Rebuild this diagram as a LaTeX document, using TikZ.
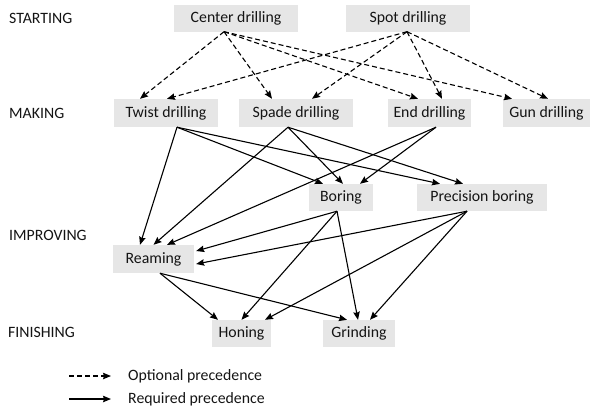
\documentclass[tikz,border=0pt]{standalone}
\usepackage{fontspec}
\setmainfont{Carlito}
\usetikzlibrary{arrows.meta}
\definecolor{boxgray}{RGB}{230,230,230}
\definecolor{ink}{RGB}{20,20,20}
\begin{document}
\begin{tikzpicture}[x=1pt,y=-1pt,
  font=\fontsize{15.8}{18}\selectfont,
  every node/.style={text=ink},
  proc/.style={fill=boxgray,inner sep=0pt,minimum height=27pt},
  stage/.style={anchor=west,inner sep=0pt},
  tip/.style={-{Stealth[length=8pt,width=6.5pt,inset=1pt]}},
  opt/.style={tip,line width=1.1pt,dash pattern=on 5pt off 3pt},
  req/.style={tip,line width=1.1pt}]
\useasboundingbox (0,0) rectangle (593,410);

% stage labels
\node[stage] (lstart) at (9,18) {STARTING};
\node[stage] (lmake)  at (9,113) {MAKING};
\node[stage] (limpr)  at (9,235) {IMPROVING};
\node[stage] (lfin)   at (8,332) {FINISHING};

% process boxes
\node[proc,minimum width=124pt] (center) at (236,18) {Center drilling};
\node[proc,minimum width=124pt] (spot)   at (408,18) {Spot drilling};
\node[proc,minimum width=104pt,minimum height=28pt] (twist) at (166,113) {Twist drilling};
\node[proc,minimum width=114pt,minimum height=28pt] (spade) at (296,113) {Spade drilling};
\node[proc,minimum width=83pt,minimum height=28pt]  (endd)  at (429.5,113) {End drilling};
\node[proc,minimum width=87pt,minimum height=28pt]  (gun)   at (546.5,113) {Gun drilling};
\node[proc,minimum width=64pt]  (boring) at (341,197.5) {Boring};
\node[proc,minimum width=130pt] (prec)   at (482,197.5) {Precision boring};
\node[proc,minimum width=81pt,minimum height=28pt] (ream) at (153.5,259) {Reaming};
\node[proc,minimum width=59pt]  (hon)  at (241.5,333.5) {Honing};
\node[proc,minimum width=72pt]  (grind) at (359,333.5) {Grinding};

% optional precedences
\draw[opt] ([xshift=-12pt]center.south) -- ([xshift=-26pt]twist.north);
\draw[opt] ([xshift=-12pt]center.south) -- ([xshift=-24pt]spade.north);
\draw[opt] ([xshift=-12pt]center.south) -- ([xshift=-11.5pt]endd.north);
\draw[opt] ([xshift=-12pt]center.south) -- ([xshift=-34.5pt]gun.north);
\draw[opt] ([xshift=-1pt]spot.south) -- ([xshift=1pt]twist.north);
\draw[opt] ([xshift=-1pt]spot.south) -- ([xshift=16pt]spade.north);
\draw[opt] ([xshift=-1pt]spot.south) -- ([xshift=12.5pt]endd.north);
\draw[opt] ([xshift=-1pt]spot.south) -- ([xshift=1.5pt]gun.north);

% required precedences
\draw[req] ([xshift=11pt]twist.south) -- ([xshift=-13.5pt]ream.north);
\draw[req] ([xshift=11pt]twist.south) -- ([xshift=-18pt]boring.north);
\draw[req] ([xshift=11pt]twist.south) -- ([xshift=-42pt]prec.north);
\draw[req] ([xshift=-8pt]spade.south) -- (ream.north);
\draw[req] ([xshift=-8pt]spade.south) -- ([xshift=2pt]boring.north);
\draw[req] ([xshift=-8pt]spade.south) -- ([xshift=-19pt]prec.north);
\draw[req] ([xshift=6.5pt]endd.south) -- ([xshift=13.5pt]ream.north);
\draw[req] ([xshift=6.5pt]endd.south) -- ([xshift=19pt]boring.north);
\draw[req] ([xshift=-4pt]boring.south) -- ([xshift=2pt,yshift=8pt]ream.east);
\draw[req] ([xshift=-4pt]boring.south) -- (hon.north);
\draw[req] ([xshift=-4pt]boring.south) -- ([xshift=-1pt]grind.north);
\draw[req] ([xshift=-15pt]prec.south) -- ([xshift=2pt,yshift=-5pt]ream.east);
\draw[req] ([xshift=-15pt]prec.south) -- ([xshift=23.5pt]hon.north);
\draw[req] ([xshift=-15pt]prec.south) -- ([xshift=11pt]grind.north);
\draw[req] ([xshift=6.5pt]ream.south) -- ([xshift=-23.5pt]hon.north);
\draw[req] ([xshift=6.5pt]ream.south) -- ([xshift=-12pt]grind.north);

% legend
\coordinate (o1) at (69,376);
\coordinate (o2) at (111,376);
\coordinate (r1) at (69,399);
\coordinate (r2) at (111,399);
\draw[opt] (o1) -- (o2);
\draw[req] (r1) -- (r2);
\node[stage] (lopt) at (128,376) {Optional precedence};
\node[stage] (lreq) at (128,399) {Required precedence};
\end{tikzpicture}
\end{document}
